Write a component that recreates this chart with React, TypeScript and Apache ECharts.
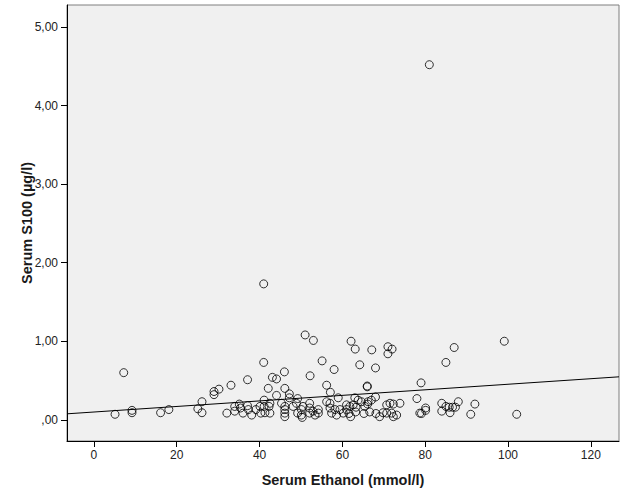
import React, { useEffect, useRef } from "react";
import * as echarts from "echarts";

// Serum Ethanol (mmol/l) vs Serum S100 (µg/l)
const upperPoints: [number, number][] = [
  [81, 4.52], [41, 1.73], [7.2, 0.6], [51, 1.08], [53, 1.01], [99.1, 1.0], [62.1, 1.0],
  [71, 0.93], [72, 0.9], [63.1, 0.9], [67.1, 0.89], [71, 0.84], [87, 0.92], [41, 0.73],
  [55.1, 0.75], [85, 0.73], [64.2, 0.7], [58, 0.64], [68, 0.66], [46, 0.61], [52.2, 0.56],
  [56.2, 0.44], [79, 0.47], [66, 0.43], [66, 0.42], [43.1, 0.54], [44.1, 0.52], [37.1, 0.51],
  [33.1, 0.44], [30.2, 0.39], [29, 0.36], [29, 0.32], [42.1, 0.4], [46.1, 0.4], [44.1, 0.31],
  [57.1, 0.35], [47.2, 0.33], [47.2, 0.28], [49.2, 0.27], [59, 0.28], [68, 0.29], [78, 0.27],
  [88, 0.23], [26.1, 0.23], [84, 0.21], [92, 0.2],
];

const lowerPoints: [number, number][] = [
  [5.1, 0.07], [9.2, 0.12], [9.2, 0.09], [16.1, 0.09], [18.1, 0.13], [25.1, 0.14], [26.1, 0.09],
  [32.1, 0.085], [34, 0.17], [34, 0.11], [35.1, 0.2], [35.4, 0.15], [36, 0.085], [37.1, 0.18],
  [37.3, 0.13], [38.1, 0.06], [39.1, 0.13], [40.1, 0.17], [40.3, 0.085], [41.1, 0.25],
  [41.1, 0.17], [42.3, 0.17], [41.3, 0.09], [42.5, 0.085], [42.5, 0.21],
  [45.3, 0.21], [46.1, 0.17], [46.1, 0.13], [46.1, 0.085], [46.1, 0.04], [48.1, 0.17],
  [48.9, 0.21], [49.2, 0.085], [50.1, 0.13], [50.1, 0.06], [50.5, 0.17], [50.3, 0.03],
  [52.1, 0.21], [52.1, 0.15], [52.1, 0.085], [52.9, 0.11], [53.4, 0.06], [54.2, 0.13],
  [54.2, 0.085], [56.2, 0.23], [57, 0.21], [57, 0.15], [57.4, 0.085], [58.2, 0.13], [58.6, 0.06],
  [59.4, 0.13], [60.2, 0.085], [61, 0.13], [61, 0.19], [61.8, 0.17], [62.6, 0.19], [63.3, 0.16],
  [63, 0.28], [63.8, 0.25], [64.6, 0.23], [66.2, 0.23], [67, 0.25], [65.4, 0.17], [66.1, 0.2],
  [70.7, 0.19], [71.5, 0.21], [72.3, 0.2], [73.9, 0.21], [61.6, 0.08], [63.2, 0.1], [65.2, 0.08],
  [66.6, 0.1], [68.1, 0.08], [69.8, 0.09], [70.7, 0.085], [71.9, 0.085], [73.1, 0.06], [69, 0.04],
  [72.3, 0.04], [62, 0.04], [78.7, 0.085], [80.1, 0.15], [80.1, 0.12], [79.1, 0.08],
  [85, 0.17], [85.8, 0.16], [86.6, 0.16], [87.3, 0.16], [84, 0.11], [86, 0.09], [91, 0.07],
  [102.1, 0.07],
];

const fitLine: [number, number][] = [[-6.5, 0.076], [126.8, 0.547]];

const xTicks = [0, 20, 40, 60, 80, 100, 120];
const yTicks = [0, 1, 2, 3, 4, 5];

export default function App() {
  const ref = useRef<HTMLDivElement>(null);
  useEffect(() => {
    if (!ref.current) return;
    const chart = echarts.init(ref.current, null, { renderer: "svg" });
    const font = "'Liberation Sans', Arial, sans-serif";
    chart.setOption({
      animation: false,
      backgroundColor: "#ffffff",
      grid: {
        left: 67,
        right: 7,
        top: 5,
        bottom: 60,
        show: true,
        backgroundColor: "#f0f0f0",
        borderColor: "#7f7f7f",
        borderWidth: 1,
      },
      xAxis: {
        type: "value",
        min: -6.5,
        max: 126.8,
        name: "Serum Ethanol (mmol/l)",
        nameLocation: "middle",
        nameGap: 31,
        nameMoveOverlap: false,
        nameTextStyle: { fontFamily: font, fontSize: 14.5, fontWeight: "bold", color: "#1a1a1a" },
        axisLine: { show: true, onZero: false, lineStyle: { color: "#000", width: 1 } },
        axisTick: { show: true, length: 6, customValues: xTicks, lineStyle: { color: "#000" } },
        axisLabel: { customValues: xTicks, margin: 8, fontFamily: font, fontSize: 12, color: "#222" },
        splitLine: { show: false },
      },
      yAxis: {
        type: "value",
        min: -0.27,
        max: 5.28,
        name: "Serum S100 (µg/l)",
        nameLocation: "middle",
        nameGap: 33,
        nameMoveOverlap: false,
        nameTextStyle: { fontFamily: font, fontSize: 14.5, fontWeight: "bold", color: "#1a1a1a" },
        axisLine: { show: true, onZero: false, lineStyle: { color: "#000", width: 1 } },
        axisTick: { show: true, length: 6, customValues: yTicks, lineStyle: { color: "#000" } },
        axisLabel: {
          customValues: yTicks,
          margin: 9,
          fontFamily: font,
          fontSize: 12,
          color: "#222",
          formatter: (v: number) => (v === 0 ? ",00" : v.toFixed(2).replace(".", ",")),
        },
        splitLine: { show: false },
      },
      series: [
        {
          type: "line",
          data: fitLine,
          symbol: "none",
          lineStyle: { color: "#000", width: 1 },
          z: 1,
          silent: true,
        },
        {
          type: "scatter",
          data: [...upperPoints, ...lowerPoints],
          symbol: "circle",
          symbolSize: 8,
          itemStyle: { color: "rgba(0,0,0,0)", borderColor: "#000", borderWidth: 1 },
          z: 2,
        },
      ],
    });
    return () => chart.dispose();
  }, []);
  return <div ref={ref} style={{ width: 626, height: 501, position: "absolute", left: 0, top: 0 }} />;
}
